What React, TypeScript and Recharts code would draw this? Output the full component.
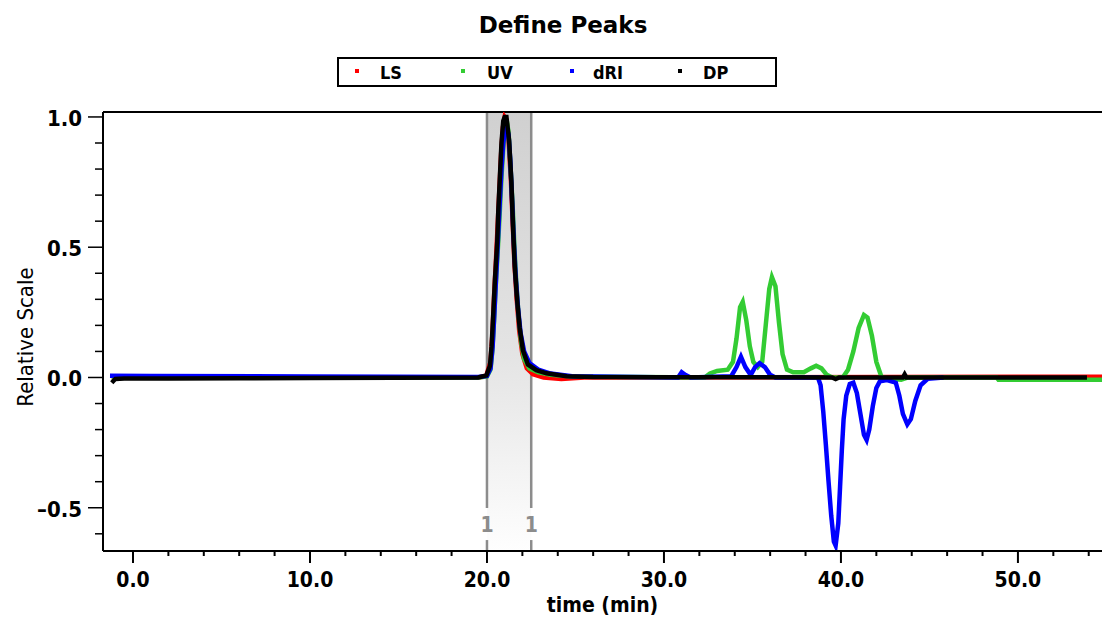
import React from 'react';
import {
  LineChart,
  Line,
  XAxis,
  YAxis,
  ReferenceArea,
  ReferenceLine,
  ReferenceDot,
} from 'recharts';

// time axis (min) and relative signal for each detector
const lsTime = [-1.2, 19.5, 19.95, 20.2, 20.3, 20.4, 20.5, 20.6, 20.7, 20.8, 20.9, 21.0, 21.1, 21.2, 21.35, 21.45, 21.55, 21.68, 21.82, 22.0, 22.25, 22.6, 23.2, 24.2, 25.5, 54.8];
const lsValue = [0, 0, 0.005, 0.06, 0.16, 0.31, 0.44, 0.58, 0.72, 0.86, 0.96, 1.0, 0.99, 0.93, 0.76, 0.6, 0.44, 0.3, 0.18, 0.09, 0.035, 0.012, 0, -0.006, 0, 0.003];

const uvTime = [-1.2, 19.5, 20.0, 20.2, 20.3, 20.4, 20.5, 20.62, 20.72, 20.82, 20.92, 21.02, 21.12, 21.22, 21.32, 21.45, 21.55, 21.65, 21.78, 21.92, 22.1, 22.4, 22.9, 23.6, 24.8, 32.3, 32.6, 33.0, 33.6, 33.9, 34.1, 34.3, 34.45, 34.65, 34.85, 35.05, 35.3, 35.55, 35.75, 35.95, 36.1, 36.3, 36.5, 36.7, 36.95, 37.3, 37.9, 38.3, 38.6, 38.9, 39.2, 39.5, 40.1, 40.4, 40.7, 41.0, 41.3, 41.5, 41.75, 42.0, 42.3, 43.0, 43.4, 43.8, 48.8, 48.9, 54.8];
const uvValue = [0, 0, 0.004, 0.03, 0.1, 0.22, 0.36, 0.5, 0.63, 0.77, 0.88, 0.96, 0.985, 0.94, 0.82, 0.66, 0.5, 0.37, 0.24, 0.14, 0.07, 0.035, 0.02, 0.01, 0.004, 0, 0.015, 0.025, 0.03, 0.06, 0.15, 0.27, 0.29, 0.22, 0.12, 0.06, 0.04, 0.06, 0.2, 0.34, 0.385, 0.35, 0.21, 0.09, 0.03, 0.02, 0.02, 0.035, 0.045, 0.035, 0.01, 0, 0, 0.03, 0.1, 0.19, 0.24, 0.23, 0.16, 0.06, 0, -0.006, -0.009, 0, 0, -0.009, -0.009];

const driTime = [-1.3, 1.0, 10.0, 19.5, 20.0, 20.2, 20.32, 20.42, 20.52, 20.62, 20.72, 20.82, 20.92, 21.02, 21.12, 21.22, 21.32, 21.42, 21.52, 21.62, 21.75, 21.9, 22.1, 22.4, 22.9, 23.6, 24.8, 30.8, 31.0, 31.2, 31.5, 33.8, 34.1, 34.35, 34.6, 34.9, 35.15, 35.4, 35.7, 36.0, 36.3, 38.7, 38.85, 39.0, 39.15, 39.3, 39.45, 39.6, 39.7, 39.85, 39.95, 40.05, 40.15, 40.3, 40.5, 40.7, 40.9, 41.1, 41.3, 41.45, 41.6, 41.8, 42.0, 42.2, 42.6, 43.1, 43.3, 43.5, 43.75, 43.95, 44.2, 44.5, 44.9, 45.8];
const driValue = [0.007, 0.006, 0.004, 0.002, 0.006, 0.035, 0.12, 0.25, 0.39, 0.53, 0.67, 0.8, 0.9, 0.95, 0.96, 0.93, 0.83, 0.68, 0.52, 0.39, 0.27, 0.17, 0.1, 0.055, 0.03, 0.015, 0.005, 0, 0.02, 0.01, 0, 0.005, 0.04, 0.08, 0.04, 0.01, 0.04, 0.055, 0.04, 0.01, 0, 0, -0.03, -0.13, -0.26, -0.4, -0.53, -0.63, -0.645, -0.56, -0.42, -0.28, -0.16, -0.07, -0.025, -0.02, -0.06, -0.14, -0.22, -0.24, -0.2, -0.11, -0.04, -0.015, -0.01, -0.02, -0.07, -0.14, -0.18, -0.16, -0.09, -0.03, -0.005, 0];

const dpTime = [-1.2, -1.0, -0.5, 2.0, 6.0, 10.0, 19.5, 19.97, 20.17, 20.26, 20.35, 20.45, 20.58, 20.64, 20.73, 20.82, 20.92, 21.0, 21.1, 21.25, 21.38, 21.47, 21.57, 21.7, 21.85, 22.03, 22.31, 22.79, 23.36, 24.5, 26.0, 39.5, 39.7, 39.9, 43.5, 43.6, 43.7, 53.9];
const dpValue = [-0.02, -0.006, -0.004, -0.004, -0.003, -0.002, 0, 0.008, 0.045, 0.12, 0.235, 0.375, 0.52, 0.64, 0.77, 0.9, 0.985, 1.0, 1.0, 0.91, 0.75, 0.58, 0.425, 0.3, 0.19, 0.105, 0.05, 0.028, 0.016, 0.005, 0.002, 0, -0.006, 0, 0, 0.012, 0, 0];

const xTicks = [0, 2, 4, 6, 8, 10, 12, 14, 16, 18, 20, 22, 24, 26, 28, 30, 32, 34, 36, 38, 40, 42, 44, 46, 48, 50, 52, 54];
const yTicks = [-0.6, -0.5, -0.4, -0.3, -0.2, -0.1, 0, 0.1, 0.2, 0.3, 0.4, 0.5, 0.6, 0.7, 0.8, 0.9, 1.0];

// peak limits
const peakStart = 20.0;
const peakEnd = 22.5;
const peakLabel = '1';

const legendItems = [
  { name: 'LS', color: '#ff0000' },
  { name: 'UV', color: '#33cc33' },
  { name: 'dRI', color: '#0000ff' },
  { name: 'DP', color: '#000000' },
];

const X_MIN = -1.695;
const X_MAX = 54.75;
const Y_MIN = -0.666;
const Y_MAX = 1.019;

const condensed = "'DejaVu Sans Condensed', 'DejaVu Sans', sans-serif";

const toPoints = (t: number[], v: number[]) => t.map((x, i) => ({ t: x, v: v[i] }));

const lsData = toPoints(lsTime, lsValue);
const uvData = toPoints(uvTime, uvValue);
const driData = toPoints(driTime, driValue);
const dpData = toPoints(dpTime, dpValue);

function XTick({ x, y, payload }: any) {
  const v = payload.value;
  const major = Math.abs(v % 10) < 1e-6;
  return (
    <g>
      <line x1={x} y1={y} x2={x} y2={y + (major ? 12 : 5)} stroke="#000" strokeWidth={2} />
      {major && (
        <text x={x} y={y + 36} textAnchor="middle" fontFamily={condensed} fontWeight="bold" fontSize={21} fill="#000">
          {v.toFixed(1)}
        </text>
      )}
    </g>
  );
}

function YTick({ x, y, payload }: any) {
  const v = payload.value;
  const major = Math.abs(v * 2 - Math.round(v * 2)) < 1e-6;
  const txt = v < 0 ? '\u2013' + Math.abs(v).toFixed(1) : v.toFixed(1);
  return (
    <g>
      <line x1={x} y1={y} x2={x - (major ? 15 : 8)} y2={y} stroke="#000" strokeWidth={1.5} />
      {major && (
        <text x={x - 21} y={y + 9} textAnchor="end" fontFamily={condensed} fontWeight="bold" fontSize={22} fill="#000">
          {txt}
        </text>
      )}
    </g>
  );
}

function PeakLabel({ cx, cy }: any) {
  return (
    <text x={cx} y={cy + 8} textAnchor="middle" fontFamily={condensed} fontWeight="bold" fontSize={21} fill="#8c8c8c">
      {peakLabel}
    </text>
  );
}

export default function App() {
  return (
    <div style={{ position: 'absolute', left: 0, top: 0, width: 1102, height: 620, background: '#fff' }}>
      <div
        style={{
          position: 'absolute',
          left: 0,
          width: 1126,
          top: 13,
          textAlign: 'center',
          fontFamily: "'DejaVu Sans', sans-serif",
          fontWeight: 'bold',
          fontSize: 23,
          lineHeight: '24px',
        }}
      >
        Define Peaks
      </div>
      <div
        style={{
          position: 'absolute',
          left: 337,
          top: 57,
          width: 440,
          height: 30,
          border: '2px solid #000',
          boxSizing: 'border-box',
          background: '#fff',
          zIndex: 2,
        }}
      >
        {legendItems.map((item, i) => {
          const sq = [16, 122, 231, 339][i];
          const lb = [41, 148, 254, 364][i];
          return (
            <React.Fragment key={item.name}>
              <div style={{ position: 'absolute', left: sq, top: 10, width: 4, height: 4, background: item.color }} />
              <div
                style={{
                  position: 'absolute',
                  left: lb,
                  top: 5,
                  fontFamily: condensed,
                  fontWeight: 'bold',
                  fontSize: 18,
                  lineHeight: '18px',
                }}
              >
                {item.name}
              </div>
            </React.Fragment>
          );
        })}
      </div>
      <LineChart width={1102} height={620} margin={{ top: 112, right: 0, bottom: 0, left: 0 }}>
        <defs>
          <linearGradient id="peakShade" x1="0" y1="0" x2="0" y2="1">
            <stop offset="0%" stopColor="#d0d0d0" />
            <stop offset="55%" stopColor="#e4e4e4" />
            <stop offset="100%" stopColor="#fefefe" />
          </linearGradient>
        </defs>
        <XAxis
          dataKey="t"
          type="number"
          domain={[X_MIN, X_MAX]}
          allowDataOverflow
          ticks={xTicks}
          interval={0}
          height={69}
          tickSize={0}
          tickMargin={0}
          tickLine={false}
          axisLine={{ stroke: '#000', strokeWidth: 2 }}
          tick={<XTick />}
          label={{
            content: ({ viewBox }: any) => (
              <text
                x={viewBox.x + viewBox.width / 2}
                y={612}
                textAnchor="middle"
                fontFamily={condensed}
                fontWeight="bold"
                fontSize={21}
                fill="#000"
              >
                time (min)
              </text>
            ),
          }}
        />
        <YAxis
          type="number"
          domain={[Y_MIN, Y_MAX]}
          allowDataOverflow
          ticks={yTicks}
          interval={0}
          width={103}
          tickSize={0}
          tickMargin={0}
          tickLine={false}
          axisLine={{ stroke: '#000', strokeWidth: 2 }}
          tick={<YTick />}
          label={{
            content: () => (
              <text
                x={33}
                y={337}
                transform="rotate(-90 33 337)"
                textAnchor="middle"
                fontFamily={condensed}
                fontSize={22}
                fill="#000"
              >
                Relative Scale
              </text>
            ),
          }}
        />
        <ReferenceArea x1={peakStart} x2={peakEnd} fill="url(#peakShade)" fillOpacity={1} stroke="none" />
        <ReferenceLine segment={[{ x: peakStart, y: Y_MAX }, { x: peakStart, y: -0.501 }]} stroke="#8c8c8c" strokeWidth={2.5} />
        <ReferenceLine segment={[{ x: peakStart, y: -0.624 }, { x: peakStart, y: Y_MIN }]} stroke="#8c8c8c" strokeWidth={2.5} />
        <ReferenceLine segment={[{ x: peakEnd, y: Y_MAX }, { x: peakEnd, y: -0.501 }]} stroke="#8c8c8c" strokeWidth={2.5} />
        <ReferenceLine segment={[{ x: peakEnd, y: -0.624 }, { x: peakEnd, y: Y_MIN }]} stroke="#8c8c8c" strokeWidth={2.5} />
        <ReferenceDot x={peakStart} y={-0.564} shape={<PeakLabel />} />
        <ReferenceDot x={peakEnd} y={-0.564} shape={<PeakLabel />} />
        <ReferenceLine y={Y_MAX} stroke="#000" strokeWidth={2} />
        <Line data={lsData} dataKey="v" name="LS" type="linear" stroke="#ff0000" strokeWidth={4.5} dot={false} isAnimationActive={false} />
        <Line data={uvData} dataKey="v" name="UV" type="linear" stroke="#33cc33" strokeWidth={4.5} dot={false} isAnimationActive={false} />
        <Line data={driData} dataKey="v" name="dRI" type="linear" stroke="#0000ff" strokeWidth={4.5} dot={false} isAnimationActive={false} />
        <Line data={dpData} dataKey="v" name="DP" type="linear" stroke="#000000" strokeWidth={4.5} dot={false} isAnimationActive={false} />
      </LineChart>
    </div>
  );
}
